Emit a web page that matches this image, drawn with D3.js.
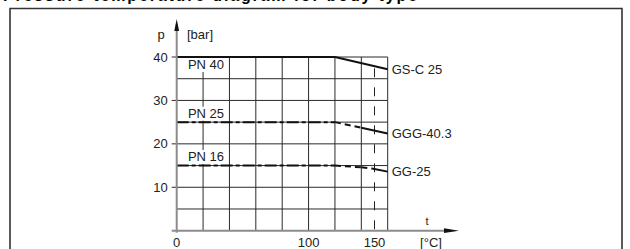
<!DOCTYPE html>
<html>
<head>
<meta charset="utf-8">
<script src="https://cdn.jsdelivr.net/npm/d3@7"></script>
<style>
  body { margin: 0; background: #fff; }
  text { font-family: "Liberation Sans", Arial, sans-serif; fill: #222; }
</style>
</head>
<body>
<div id="chart"></div>
<script>
// values
const pressureTicks = [10, 20, 30, 40];
const tempTicks = [0, 100, 150];
const gridTemps = [20, 40, 60, 80, 100, 120, 140, 160];
const gridPress = [5, 10, 15, 20, 25, 30, 35, 40];
const limitTemp = 150;

const materials = ["GS-C 25", "GGG-40.3", "GG-25"];
const pnRatings = ["PN 40", "PN 25", "PN 16"];
const gscTemp = [0, 120, 160];
const gscPress = [40, 40, 37.2];
const gggTemp = [0, 120, 140, 160];
const gggPress = [25, 25, 23.7, 22.4];
const ggTemp = [0, 120, 140, 148, 160];
const ggPress = [15, 15, 14.6, 14.3, 13.6];

const width = 630, height = 249;

const svg = d3.select("#chart").append("svg")
    .attr("width", width)
    .attr("height", height);

const x = d3.scaleLinear().domain([0, 160]).range([176.7, 387.7]);
const y = d3.scaleLinear().domain([0, 40]).range([230.7, 57]);

// title, cut by the top edge
svg.append("text")
    .attr("x", 3).attr("y", 0.5)
    .attr("textLength", 414)
    .style("font-weight", "bold")
    .style("font-size", "16px")
    .style("fill", "#000")
    .text("Pressure-temperature diagram for body type");

// frame
svg.append("path")
    .attr("d", `M10,${height} V8.5 H622 V${height}`)
    .attr("fill", "none")
    .attr("stroke", "#333")
    .attr("stroke-width", 1.6);

// grid
const grid = svg.append("g").attr("stroke", "#2a2a2a").attr("stroke-width", 1);
grid.selectAll(".vg").data(gridTemps).enter().append("line")
    .attr("x1", d => x(d)).attr("x2", d => x(d))
    .attr("y1", y(0)).attr("y2", y(40));
grid.selectAll(".hg").data(gridPress).enter().append("line")
    .attr("x1", x(0)).attr("x2", x(160))
    .attr("y1", d => y(d)).attr("y2", d => y(d));
grid.selectAll(".tk").data(pressureTicks).enter().append("line")
    .attr("x1", x(0) - 5).attr("x2", x(0))
    .attr("y1", d => y(d)).attr("y2", d => y(d));

// 150 °C limit
svg.append("line")
    .attr("x1", x(limitTemp)).attr("x2", x(limitTemp))
    .attr("y1", y(37.4)).attr("y2", y(0))
    .attr("stroke", "#222")
    .attr("stroke-width", 1)
    .attr("stroke-dasharray", "9,10");

// PN labels with white backing
const series = [
  { t: gscTemp, p: gscPress },
  { t: gggTemp, p: gggPress },
  { t: ggTemp, p: ggPress }
];

series.forEach((s, i) => {
  const ty = i === 0 ? y(s.p[0]) + 12 : y(s.p[0]) - 4.5;
  const g = svg.append("g");
  const rect = g.append("rect").attr("fill", "#fff");
  const txt = g.append("text")
      .attr("x", x(8.5)).attr("y", ty)
      .style("font-size", "13px")
      .text(pnRatings[i]);
  const b = txt.node().getBBox();
  rect.attr("x", b.x - 1).attr("y", b.y + 1)
      .attr("width", b.width + 2).attr("height", b.height - 1);
});

// material curves
const line = d3.line().x(d => x(d[0])).y(d => y(d[1]));
series.forEach((s, i) => {
  const pts = s.t.map((t, k) => [t, s.p[k]]);
  for (let j = 0; j < pts.length - 1; j++) {
    let dash = null;
    if (i > 0) {
      if (j === 0) dash = "12,3,4,3";
      else if (j < pts.length - 2) dash = "6,4";
    }
    svg.append("path")
        .attr("d", line([pts[j], pts[j + 1]]))
        .attr("fill", "none")
        .attr("stroke", "#111")
        .attr("stroke-width", 2)
        .attr("stroke-dasharray", dash);
  }
  const last = pts[pts.length - 1];
  svg.append("text")
      .attr("x", x(last[0]) + 4)
      .attr("y", y(last[1]))
      .attr("dy", "0.35em")
      .style("font-size", "13px")
      .text(materials[i]);
});

// axes
const axisCol = "#8c8c8c";
svg.append("line")
    .attr("x1", x(0)).attr("x2", x(0))
    .attr("y1", y(0) + 2).attr("y2", 24)
    .attr("stroke", axisCol).attr("stroke-width", 2);
svg.append("line")
    .attr("x1", x(0) - 5).attr("x2", 448)
    .attr("y1", y(0)).attr("y2", y(0))
    .attr("stroke", axisCol).attr("stroke-width", 2);
svg.append("path")
    .attr("d", `M${x(0)},19 L${x(0) + 2.4},31 L${x(0) - 2.4},31 Z`)
    .attr("fill", "#111");
svg.append("path")
    .attr("d", `M459,${y(0)} L444,${y(0) - 2.4} L444,${y(0) + 2.4} Z`)
    .attr("fill", "#111");

svg.selectAll(".yl").data(pressureTicks).enter().append("text")
    .attr("x", x(0) - 9)
    .attr("y", d => y(d))
    .attr("dy", "0.35em")
    .attr("text-anchor", "end")
    .style("font-size", "13px")
    .text(d => d);

svg.selectAll(".xl").data(tempTicks).enter().append("text")
    .attr("x", d => x(d))
    .attr("y", 247)
    .attr("text-anchor", "middle")
    .style("font-size", "13px")
    .text(d => d);

svg.append("text").attr("x", 161).attr("y", 34).attr("dy", "0.35em")
    .attr("text-anchor", "middle").style("font-size", "13px").text("p");
svg.append("text").attr("x", 187).attr("y", 34).attr("dy", "0.35em")
    .style("font-size", "13px").text("[bar]");
svg.append("text").attr("x", 427).attr("y", 221).attr("dy", "0.35em")
    .attr("text-anchor", "middle").style("font-size", "11px").text("t");
svg.append("text").attr("x", 431).attr("y", 247)
    .attr("text-anchor", "middle").style("font-size", "13px").text("[°C]");
</script>
</body>
</html>
